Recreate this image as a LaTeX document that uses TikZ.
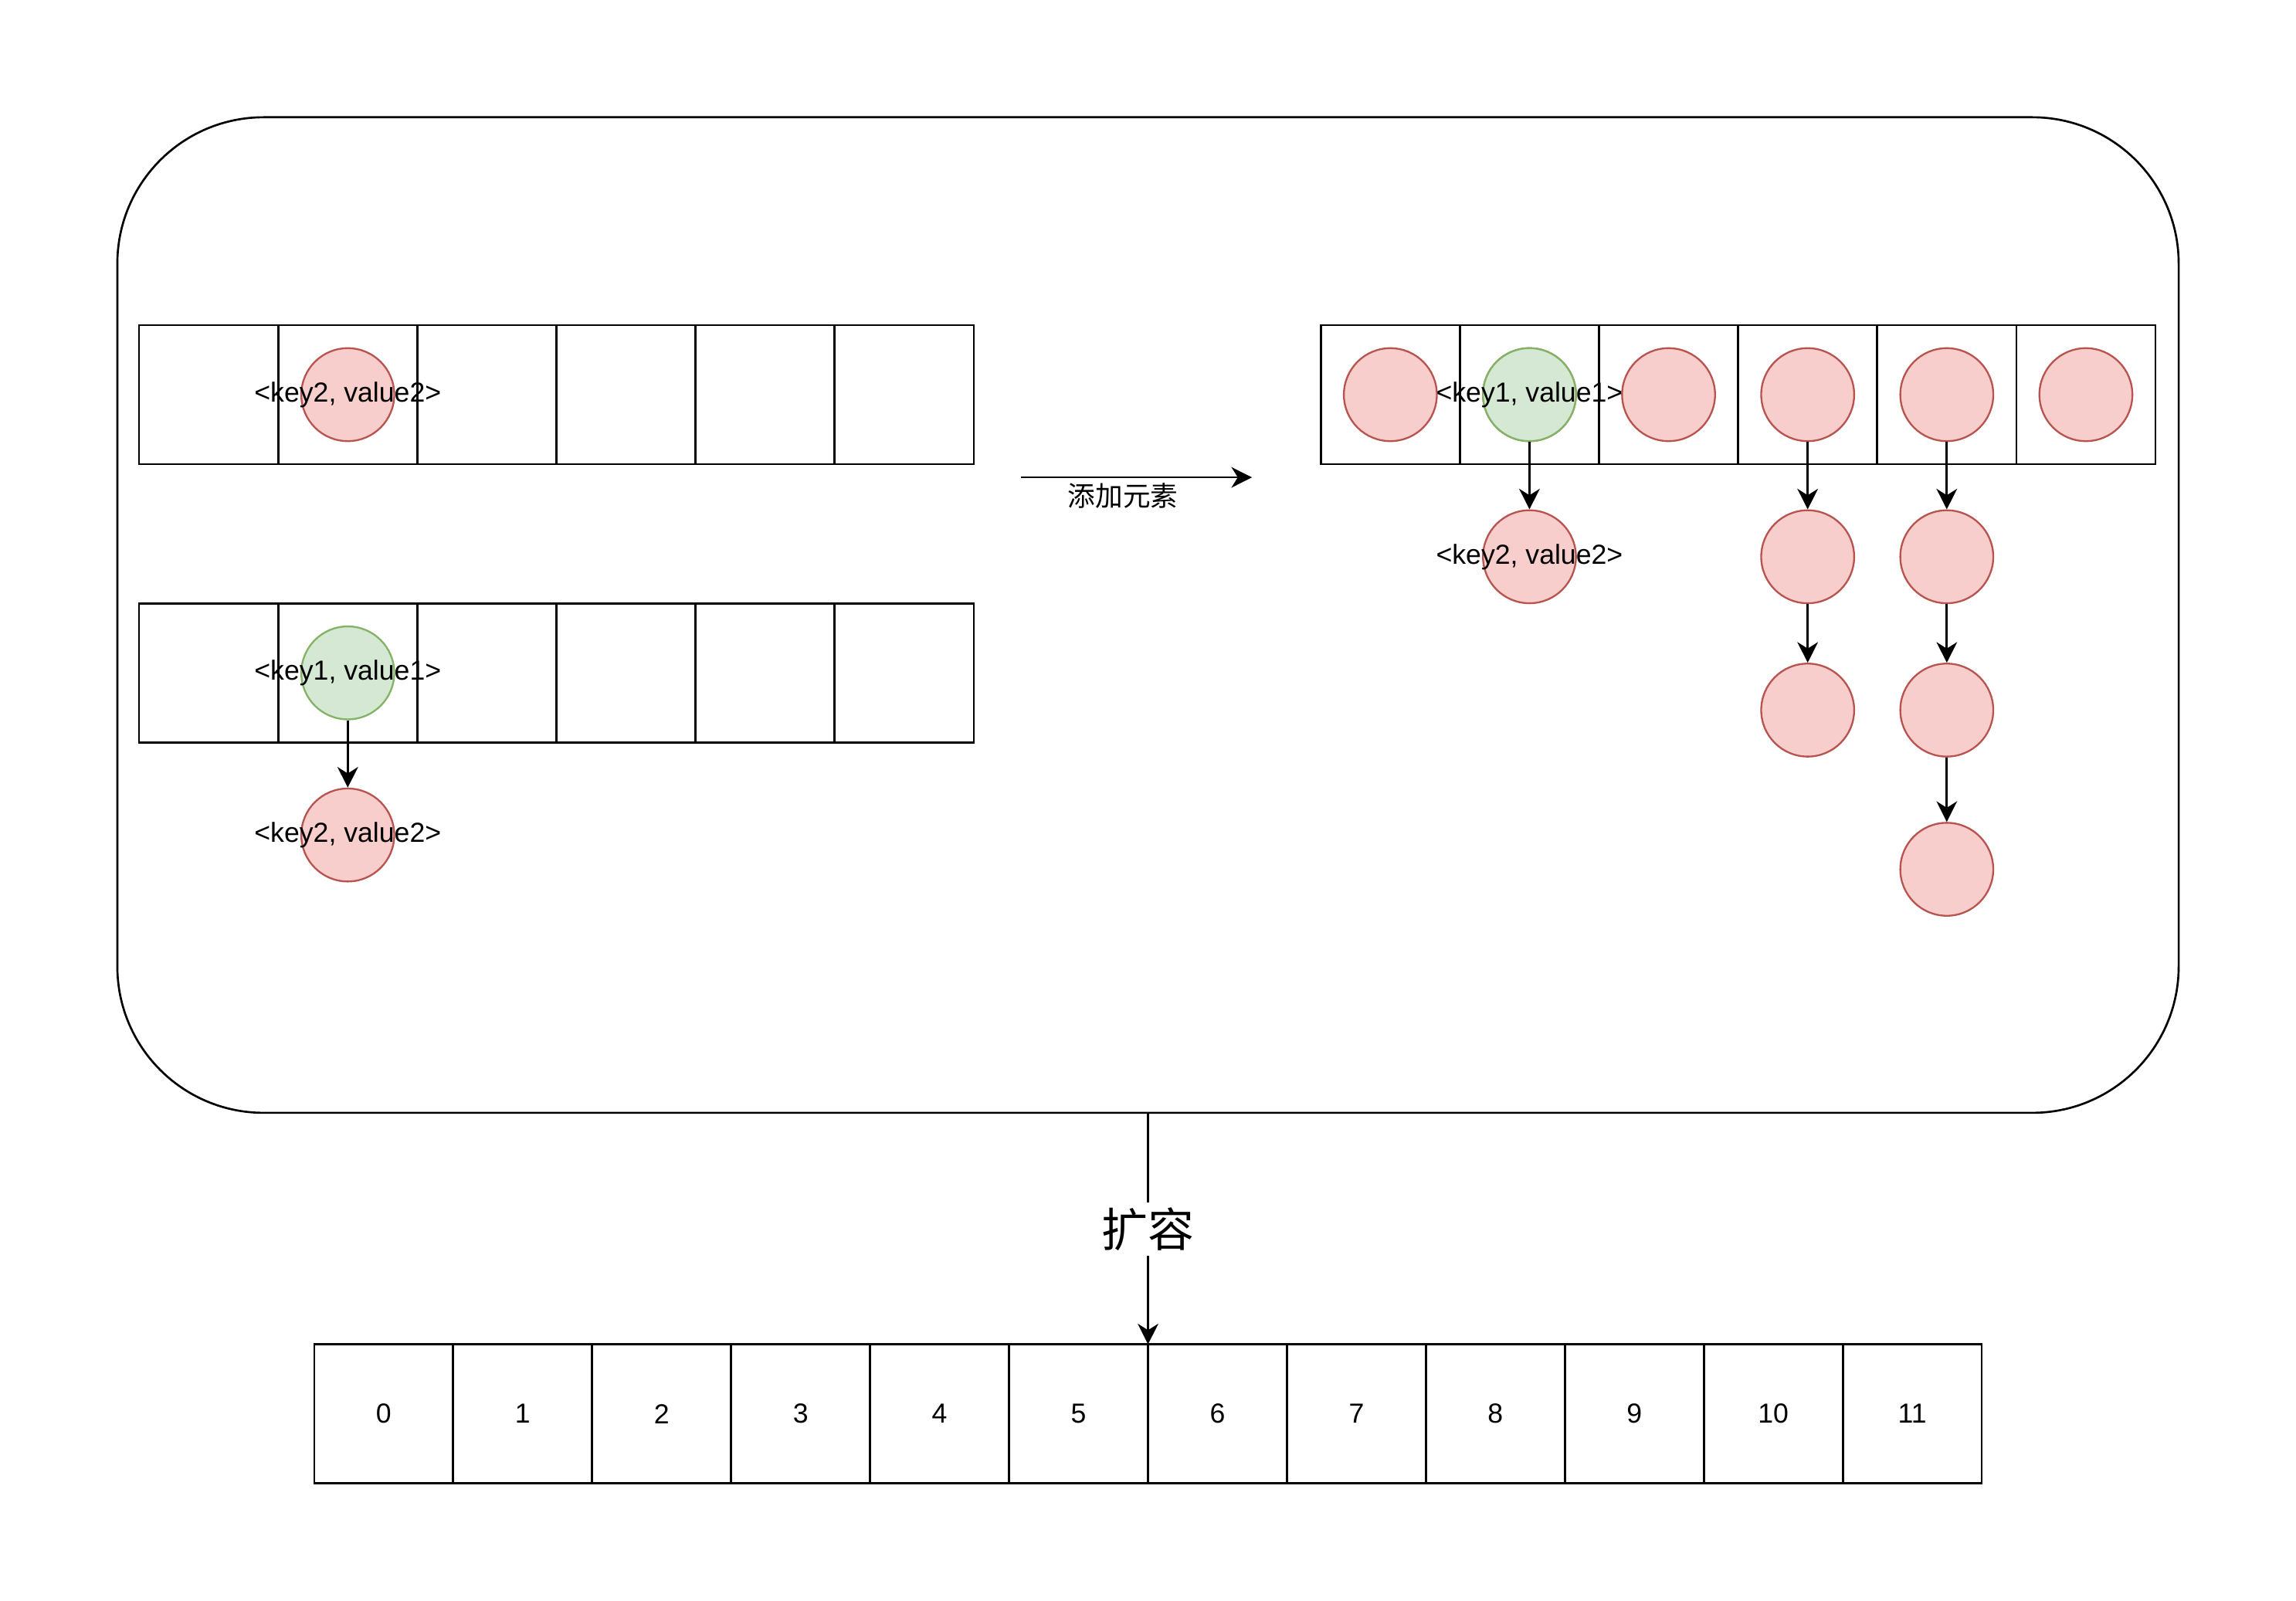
\documentclass[tikz,border=0pt]{standalone}
\usepackage{fontspec}
\setmainfont{Liberation Sans}
\newfontfamily\cjk{Noto Sans CJK SC}
\usetikzlibrary{arrows.meta,positioning}

\definecolor{redfill}{HTML}{F8CECC}
\definecolor{redline}{HTML}{B85450}
\definecolor{greenfill}{HTML}{D5E8D4}
\definecolor{greenline}{HTML}{82B366}

\tikzset{
  cell/.style={draw, line width=0.8pt, minimum width=1.9cm, minimum height=1.9cm, inner sep=0pt, outer sep=0pt},
  slot/.style={circle, line width=0.7pt, minimum size=1.27cm, inner sep=0pt},
  redslot/.style={slot, draw=redline, fill=redfill},
  greenslot/.style={slot, draw=greenline, fill=greenfill},
  kv/.style={font=\fontsize{10.7}{12}\selectfont, inner sep=0pt},
  arr/.style={-{Stealth[length=8pt, width=8pt, inset=2.5pt]}, line width=0.8pt},
}

\begin{document}
\begin{tikzpicture}[x=0.02cm, y=-0.02cm]
    \useasboundingbox (0,0) rectangle (1568,1093);

    % outer box
    \node[draw, line width=0.8pt, rounded corners=2cm, minimum width=28.16cm, minimum height=13.6cm] (outer) at (784,420) {};

    % left arrays
    \foreach \i in {0,...,5} {
        \node[cell] (p\i) at ({142.5+95*\i},269.5) {};
        \node[cell] (q\i) at ({142.5+95*\i},459.5) {};
    }
    \node[redslot] (pk2) at (p1) {};
    \node[kv] at (pk2) {<key2, value2>};
    \node[greenslot] (qk1) at (q1) {};
    \node[kv] at (qk1) {<key1, value1>};
    \node[redslot, below=0.92cm of qk1] (qk2) {};
    \node[kv] at (qk2) {<key2, value2>};
    \draw[arr] (qk1) -- (qk2);

    % add element
    \coordinate (addL) at (697,326);
    \coordinate (addR) at (855,326);
    \draw[arr] (addL) -- (addR);
    \node[kv, font=\cjk\fontsize{10.7}{12}\selectfont, below=2pt of addL, xshift=70*0.02cm, anchor=north] (addtext) {添加元素};

    % right array
    \foreach \i in {0,...,5} {
        \node[cell] (r\i) at ({949.5+95*\i},269.5) {};
        \node[redslot] (s\i) at (r\i) {};
    }
    \node[greenslot] (s1) at (r1) {};
    \node[kv] at (s1) {<key1, value1>};
    \node[redslot, below=0.92cm of s1] (s1a) {};
    \node[kv] at (s1a) {<key2, value2>};
    \draw[arr] (s1) -- (s1a);

    \node[redslot, below=0.92cm of s3] (s3a) {};
    \node[redslot, below=0.8cm of s3a] (s3b) {};
    \draw[arr] (s3) -- (s3a);
    \draw[arr] (s3a) -- (s3b);

    \node[redslot, below=0.92cm of s4] (s4a) {};
    \node[redslot, below=0.8cm of s4a] (s4b) {};
    \node[redslot, below=0.88cm of s4b] (s4c) {};
    \draw[arr] (s4) -- (s4a);
    \draw[arr] (s4a) -- (s4b);
    \draw[arr] (s4b) -- (s4c);

    % resized array
    \foreach \i in {0,...,11}
        \node[cell, kv, minimum width=1.898cm] (b\i) at ({262.05+94.9*\i},965.5) {\i};

    \draw[arr] (outer.south) -- node[fill=white, inner sep=2pt, font=\cjk\fontsize{18}{20}\selectfont] {扩容} (b6.north west);
\end{tikzpicture}
\end{document}
